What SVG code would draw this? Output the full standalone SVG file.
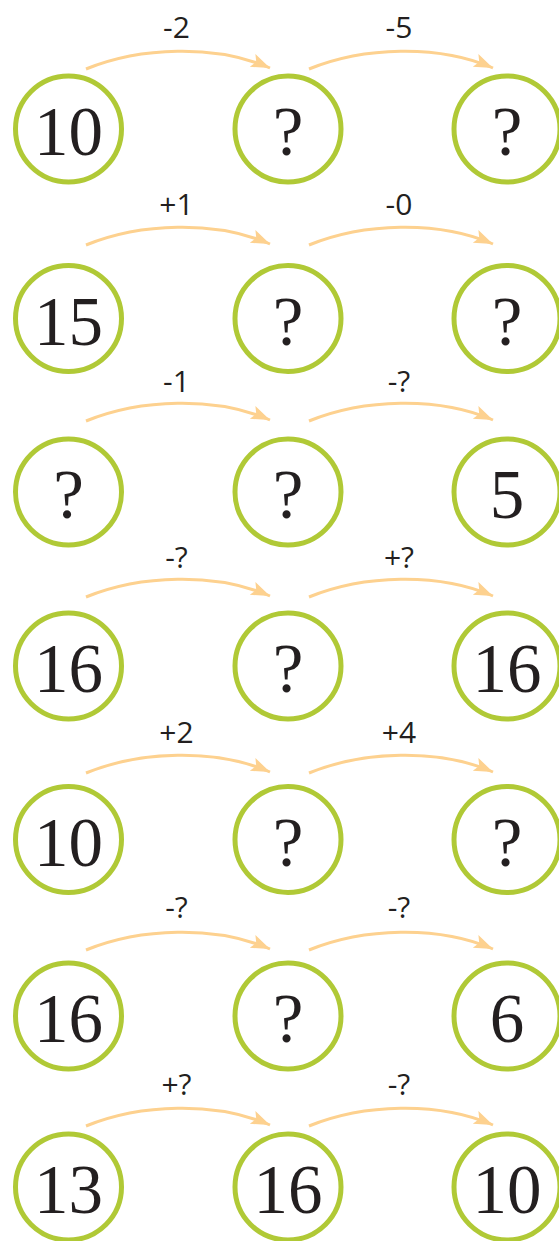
<svg xmlns="http://www.w3.org/2000/svg" width="559" height="1241" viewBox="0 0 559 1241">
<style>
.c{fill:#fff;stroke:#b0c936;stroke-width:5}
.n{font-family:"Liberation Serif",serif;font-size:69px;fill:#231f20;text-anchor:middle}
.l{font-family:"Open Sans",sans-serif;font-size:30px;fill:#231f20;text-anchor:middle}
.a{fill:none;stroke:#fdd18f;stroke-width:3;marker-end:url(#ah)}
</style>
<defs>
<marker id="ah" markerUnits="userSpaceOnUse" markerWidth="22" markerHeight="16" refX="19" refY="7" orient="auto">
<path d="M0,0 L19,7 L0,14 L4,7 Z" fill="#fdd18f"/>
</marker>
</defs>
<rect width="559" height="1241" fill="#fff"/>
<g id="connectors">
<path class="a" d="M86,69 C140,47 215,44 270,68"/>
<path class="a" d="M309,69 C363,47 438,44 493,68"/>
<path class="a" d="M86,245 C140,223 215,220 270,244"/>
<path class="a" d="M309,245 C363,223 438,220 493,244"/>
<path class="a" d="M86,421 C140,399 215,396 270,420"/>
<path class="a" d="M309,421 C363,399 438,396 493,420"/>
<path class="a" d="M86,597 C140,575 215,572 270,596"/>
<path class="a" d="M309,597 C363,575 438,572 493,596"/>
<path class="a" d="M86,773 C140,751 215,748 270,772"/>
<path class="a" d="M309,773 C363,751 438,748 493,772"/>
<path class="a" d="M86,950 C140,928 215,925 270,949"/>
<path class="a" d="M309,950 C363,928 438,925 493,949"/>
<path class="a" d="M86,1126 C140,1104 215,1101 270,1125"/>
<path class="a" d="M309,1126 C363,1104 438,1101 493,1125"/>
</g>
<g id="labels">
<text class="l" x="176.5" y="38">-2</text><text class="l" x="399" y="38">-5</text>
<text class="l" x="176.5" y="215">+1</text><text class="l" x="399" y="215">-0</text>
<text class="l" x="176.5" y="392">-1</text><text class="l" x="399" y="392">-?</text>
<text class="l" x="176.5" y="568">-?</text><text class="l" x="399" y="568">+?</text>
<text class="l" x="176.5" y="743">+2</text><text class="l" x="399" y="743">+4</text>
<text class="l" x="176.5" y="918">-?</text><text class="l" x="399" y="918">-?</text>
<text class="l" x="176.5" y="1095">+?</text><text class="l" x="399" y="1095">-?</text>
</g>
<g id="r1a"><circle class="c" cx="68.5" cy="129" r="53"/><text class="n" x="68.5" y="155">10</text></g>
<g id="r1b"><circle class="c" cx="288" cy="129" r="53"/><text class="n" x="288" y="155">?</text></g>
<g id="r1c"><circle class="c" cx="507" cy="129" r="53"/><text class="n" x="507" y="155">?</text></g>
<g id="r2a"><circle class="c" cx="68.5" cy="318.5" r="53"/><text class="n" x="68.5" y="344.5">15</text></g>
<g id="r2b"><circle class="c" cx="288" cy="318.5" r="53"/><text class="n" x="288" y="344.5">?</text></g>
<g id="r2c"><circle class="c" cx="507" cy="318.5" r="53"/><text class="n" x="507" y="344.5">?</text></g>
<g id="r3a"><circle class="c" cx="68.5" cy="492" r="53"/><text class="n" x="68.5" y="518">?</text></g>
<g id="r3b"><circle class="c" cx="288" cy="492" r="53"/><text class="n" x="288" y="518">?</text></g>
<g id="r3c"><circle class="c" cx="507" cy="492" r="53"/><text class="n" x="507" y="518">5</text></g>
<g id="r4a"><circle class="c" cx="68.5" cy="666" r="53"/><text class="n" x="68.5" y="692">16</text></g>
<g id="r4b"><circle class="c" cx="288" cy="666" r="53"/><text class="n" x="288" y="692">?</text></g>
<g id="r4c"><circle class="c" cx="507" cy="666" r="53"/><text class="n" x="507" y="692">16</text></g>
<g id="r5a"><circle class="c" cx="68.5" cy="839.5" r="53"/><text class="n" x="68.5" y="865.5">10</text></g>
<g id="r5b"><circle class="c" cx="288" cy="839.5" r="53"/><text class="n" x="288" y="865.5">?</text></g>
<g id="r5c"><circle class="c" cx="507" cy="839.5" r="53"/><text class="n" x="507" y="865.5">?</text></g>
<g id="r6a"><circle class="c" cx="68.5" cy="1016" r="53"/><text class="n" x="68.5" y="1042">16</text></g>
<g id="r6b"><circle class="c" cx="288" cy="1016" r="53"/><text class="n" x="288" y="1042">?</text></g>
<g id="r6c"><circle class="c" cx="507" cy="1016" r="53"/><text class="n" x="507" y="1042">6</text></g>
<g id="r7a"><circle class="c" cx="68.5" cy="1187" r="53"/><text class="n" x="68.5" y="1213">13</text></g>
<g id="r7b"><circle class="c" cx="288" cy="1187" r="53"/><text class="n" x="288" y="1213">16</text></g>
<g id="r7c"><circle class="c" cx="507" cy="1187" r="53"/><text class="n" x="507" y="1213">10</text></g>
</svg>
